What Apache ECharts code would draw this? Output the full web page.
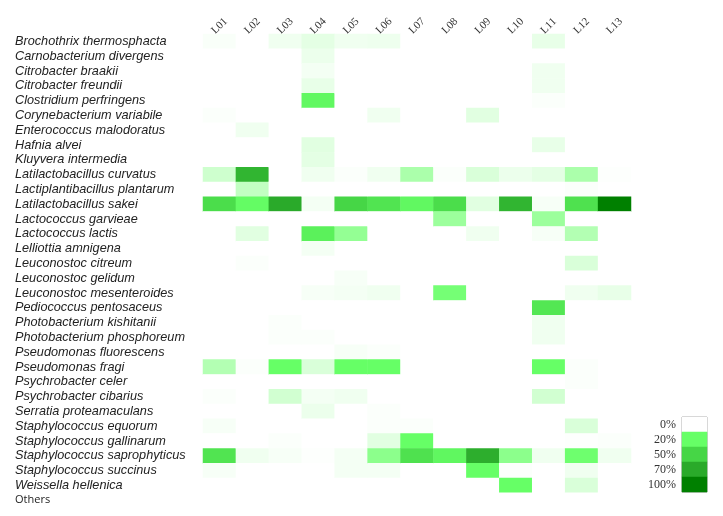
<!DOCTYPE html>
<html><head><meta charset="utf-8">
<script src="https://cdn.jsdelivr.net/npm/echarts@6/dist/echarts.min.js"></script>
<style>html,body{margin:0;padding:0;background:#fff}#c{width:723px;height:516px}</style>
</head><body><div id="c"></div>
<script>
const samples = ['L01','L02','L03','L04','L05','L06','L07','L08','L09','L10','L11','L12','L13'];
const species = [
  'Brochothrix thermosphacta','Carnobacterium divergens','Citrobacter braakii','Citrobacter freundii',
  'Clostridium perfringens','Corynebacterium variabile','Enterococcus malodoratus','Hafnia alvei',
  'Kluyvera intermedia','Latilactobacillus curvatus','Lactiplantibacillus plantarum','Latilactobacillus sakei',
  'Lactococcus garvieae','Lactococcus lactis','Lelliottia amnigena','Leuconostoc citreum',
  'Leuconostoc gelidum','Leuconostoc mesenteroides','Pediococcus pentosaceus','Photobacterium kishitanii',
  'Photobacterium phosphoreum','Pseudomonas fluorescens','Pseudomonas fragi','Psychrobacter celer',
  'Psychrobacter cibarius','Serratia proteamaculans','Staphylococcus equorum','Staphylococcus gallinarum',
  'Staphylococcus saprophyticus','Staphylococcus succinus','Weissella hellenica','Others'
];
// relative abundance (%) per sample, in species order
const L01 = [0.8,0,0,0,0,0.5,0,0,0,6.5, 0,45,0,0,0,0,0,0,0,0, 0,0,10,0,0.5,0,1,0,40,1, 0,0];
const L02 = [0,0,0,0,0,0,2,0,0,65, 8,22,0,4,0,0.5,0,0,0,0, 0,0,0.5,0,0,0,0,0,2,0, 0,0];
const L03 = [2,0,0,0,0,0,0,0,0,0, 0,70,0,0,0,0,0,0,0,0.5, 0.5,0,20,0,6,0,0,0.5,1,0, 0,0];
const L04 = [3.5,2.5,1.5,3,25,0,0,4,3.5,2, 0,1.5,0,30,1.5,0,0,1,0,0, 0.5,0,5,0,1.5,2.5,0,0,0.3,0, 0,0];
const L05 = [2,0,0,0,0,0,0,0,0,0.5, 0,50,0,14,0,0,1,1.5,0,0, 0,1,20,0,2,0,0,0,1.5,1.5, 0,0];
const L06 = [2.2,0,0,0,0,2,0,0,0,2, 0,40,0,0,0,0,0,2,0,0, 0,0.5,20,0,0,0.5,0.5,4,15,1.5, 0,0];
const L07 = [0,0,0,0,0,0,0,0,0,11, 0,25,0,0,0,0,0,0,0,0, 0,0,0,0,0,0,0.5,20,42,0, 0,0];
const L08 = [0,0,0,0,0,0,0,0,0,0.5, 0,45,13,0,0,0,0,18,0,0, 0,0,0,0,0,0,0,0,26,0, 0,0];
const L09 = [0,0,0,0,0,4,0,0,0,5, 0,4,0,2,0,0,0,0,0,0, 0,0,0,0,0,0,0,0,68,20, 0,0];
const L10 = [0,0,0,0,0,0,0,0,0,2.5, 0,65,0,0,0,0,0,0,0,0, 0,0,0,0,0,0,0,0,15,0.5, 20,0];
const L11 = [3,0,2,2,0.5,0,0,3,0,3.5, 0,1,13,1,0,0,0,0,38,2, 2,0,20,0,6,0,0,0,2,0, 0,0];
const L12 = [0,0,0,0,0,0,0,0,0,11, 0.5,42,0,10,0,5,0,2,0,0, 0,0,0.5,0.5,0,0,5,0.3,19,2, 5,0];
const L13 = [0,0,0,0,0,0,0,0,0,0.3, 0,100,0,0,0,0,0,3,0,0, 0,0,0,0,0,0,0,0.5,2,0, 0,0];
const columns = [L01,L02,L03,L04,L05,L06,L07,L08,L09,L10,L11,L12,L13];

const legendLabels = ['0%','20%','50%','70%','100%'];
const legendValues = [0,20,50,70,100];

// colour anchors of the scale
const anchors = [[0,[255,255,255]],[20,[102,255,102]],[50,[70,214,70]],[70,[42,170,42]],[100,[0,128,0]]];
function colorAt(v){
  for (let i=1;i<anchors.length;i++){
    if (v<=anchors[i][0]){
      const a=anchors[i-1], b=anchors[i];
      const t=(v-a[0])/(b[0]-a[0]);
      const c=a[1].map((x,k)=>Math.round(x+(b[1][k]-x)*t));
      return 'rgb('+c.join(',')+')';
    }
  }
  return 'rgb(0,128,0)';
}
const stops=[]; for(let v=0;v<=100;v+=5) stops.push(colorAt(v));

const data=[];
columns.forEach((col,ci)=>col.forEach((v,ri)=>data.push([ci,ri,v])));
const legendData = legendValues.map((v,i)=>[0,i,v]);

const chart = echarts.init(document.getElementById('c'));
chart.setOption({
  animation:false,
  backgroundColor:'#fff',
  grid:[
    {left:203, top:34, width:428, height:473.6},
    {left:682, top:417, width:25, height:75, show:true, borderColor:'#999', borderWidth:1, backgroundColor:'transparent'}
  ],
  xAxis:[
    {type:'category', data:samples, position:'top', gridIndex:0,
     axisLine:{show:false}, axisTick:{show:false}, splitLine:{show:false},
     axisLabel:{interval:0, rotate:-45, align:'center', verticalAlign:'middle', fontFamily:'Liberation Serif', fontSize:11, color:'#333', margin:8}},
    {type:'category', data:[''], gridIndex:1, show:false}
  ],
  yAxis:[
    {type:'category', data:species, inverse:true, gridIndex:0,
     axisLine:{show:false}, axisTick:{show:false}, splitLine:{show:false},
     axisLabel:{interval:0, align:'left', margin:188, color:'#222',
       formatter:function(v){ return v==='Others' ? '{n|'+v+'}' : '{i|'+v+'}'; },
       rich:{
         i:{fontFamily:'Liberation Sans', fontStyle:'italic', fontSize:12.7, color:'#222'},
         n:{fontFamily:'Open Sans', fontSize:11, color:'#222'}
       }}},
    {type:'category', data:legendLabels, inverse:true, gridIndex:1,
     axisLine:{show:false}, axisTick:{show:false}, splitLine:{show:false},
     axisLabel:{interval:0, fontFamily:'Liberation Serif', fontSize:12, color:'#333', margin:6}}
  ],
  visualMap:{type:'continuous', show:false, min:0, max:100, dimension:2, seriesIndex:[0,1], inRange:{color:stops}},
  series:[
    {type:'heatmap', xAxisIndex:0, yAxisIndex:0, data:data, emphasis:{disabled:true}, itemStyle:{borderWidth:0}},
    {type:'heatmap', xAxisIndex:1, yAxisIndex:1, data:legendData, emphasis:{disabled:true}, itemStyle:{borderWidth:0}}
  ]
});
</script>
</body></html>
